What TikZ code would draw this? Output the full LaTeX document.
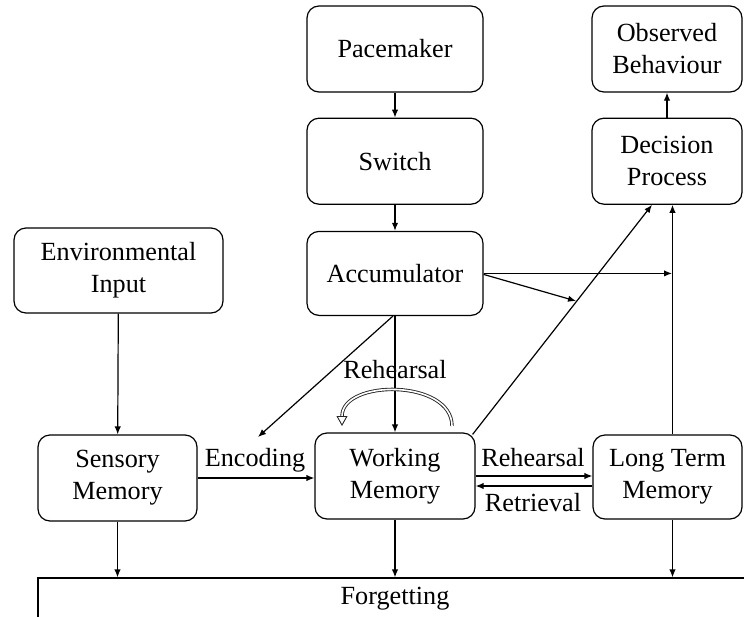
\documentclass[tikz,border=0pt]{standalone}
\usepackage{fontspec}
\setmainfont{Liberation Serif}
\usetikzlibrary{arrows.meta,positioning}
\newcommand{\boxfont}{\fontsize{13.1}{16}\selectfont}
\tikzset{>={Latex[length=4pt,width=3.2pt]},box/.style={draw,line width=0.6pt,rounded corners=6pt,fill=white,align=center,inner sep=0pt,font=\boxfont},arr/.style={->,line width=0.6pt},lbl/.style={font=\boxfont,inner sep=1pt},curl/.style={-{Triangle[open,length=5pt,width=5.5pt]},line width=0.45pt,draw=black!85,double=white,double distance=0.8pt}}

\begin{document}
\begin{tikzpicture}[x=0.5pt,y=-0.5pt,node distance=12.5pt]
\useasboundingbox (0,0) rectangle (744,616);
\node[box,minimum width=88pt,minimum height=43pt] (pace) at (395,49) {Pacemaker};
\node[box,minimum width=88pt,minimum height=43pt,below=of pace] (switch) {Switch};
\node[box,minimum width=88pt,minimum height=42pt,below=13pt of switch] (acc) {Accumulator};
\node[box,minimum width=75pt,minimum height=43pt] (obs) at (667,49) {Observed\\Behaviour};
\node[box,minimum width=75pt,minimum height=43pt,below=of obs] (dec) {Decision\\Process};
\node[box,minimum width=104.5pt,minimum height=42.5pt] (env) at (118.5,270.5) {Environmental\\Input};
\node[box,minimum width=79.5pt,minimum height=43pt] (sens) at (117.5,478) {Sensory\\Memory};
\node[box,minimum width=80pt,minimum height=43pt] (wm) at (395,476) {Working\\Memory};
\node[box,minimum width=74.5pt,minimum height=42pt] (ltm) at (667.5,477) {Long Term\\Memory};
\node[box,rounded corners=0pt,minimum width=357pt,minimum height=21pt] (forg) at (395,599) {Forgetting};
% labels on the links
\node[lbl] (enc) at (255,460) {Encoding};
\node[lbl] (rehtop) at (395,370) {Rehearsal};
\node[lbl] (reh) at (533,458) {Rehearsal};
\node[lbl] (ret) at (533,503) {Retrieval};
\coordinate (enctip) at (258,437);
\coordinate (tap) at (672,271);
\coordinate (hit) at (576,301);
\draw[arr] (pace)--(switch);\draw[arr] (switch)--(acc);\draw[arr] (dec)--(obs);
\draw[arr] (env)--(sens);\draw[arr] (acc)--(wm);
\draw[arr] (sens.east)--(sens.east -| wm.west);
\draw[arr] (wm.east)--(wm.east -| ltm.west);
\draw[arr] ([yshift=-4.5pt]ltm.west)--([yshift=-4.5pt]ltm.west -| wm.east);
\draw[arr] ([xshift=-1pt]acc.south)--(enctip);
\draw[arr] (acc.east)--(acc.east -| tap);
\draw[arr] ([yshift=-0.5pt]acc.east)--(hit);
\draw[arr] ([xshift=-1.5pt,yshift=-1pt]wm.north east)--([xshift=-7.5pt]dec.south);
\draw[arr] ([xshift=2.5pt]ltm.north)--([xshift=2.5pt]ltm.north |- dec.south);
\draw[arr] ([xshift=2.5pt]ltm.south)--([xshift=2.5pt]ltm.south |- forg.north);
\draw[arr] (sens)--(sens |- forg.north);\draw[arr] (wm)--(wm |- forg.north);
\draw[curl] (452,426) .. controls (452,379) and (342,379) .. (342,426);
\end{tikzpicture}
\end{document}
